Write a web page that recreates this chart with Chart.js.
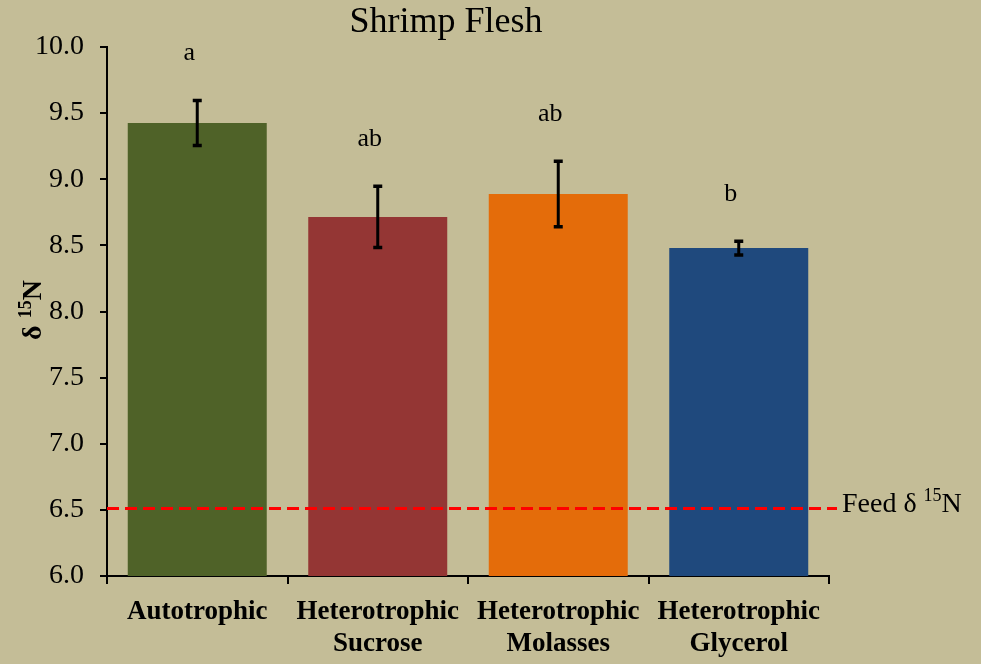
<!DOCTYPE html>
<html>
<head>
<meta charset="utf-8">
<script src="https://cdn.jsdelivr.net/npm/chart.js@4.4.1/dist/chart.umd.min.js"></script>
<style>
  html, body { margin: 0; padding: 0; background: #C4BD97; }
  canvas { display: block; }
</style>
</head>
<body>
<canvas id="grafico" width="981" height="664"></canvas>
<script>
// Tratamientos, medias de δ15N y error estándar
const categorias = [["Autotrophic"], ["Heterotrophic", "Sucrose"], ["Heterotrophic", "Molasses"], ["Heterotrophic", "Glycerol"]];
const medias = [9.425, 8.715, 8.888, 8.48];
const errores = [0.17, 0.232, 0.248, 0.052];
const letras = ["a", "ab", "ab", "b"];
const colores = ["#4F6228", "#943634", "#E46C0A", "#1F497D"];
const feedN = 6.51;
const ticksY = [6.0, 6.5, 7.0, 7.5, 8.0, 8.5, 9.0, 9.5, 10.0];

const serif = "'Liberation Serif', 'Times New Roman', serif";

// Barras de error, letras de significancia, línea del alimento y títulos
const extras = {
  id: "extras",
  afterDatasetsDraw(chart) {
    const ctx = chart.ctx;
    const y = chart.scales.y;
    const area = chart.chartArea;
    const meta = chart.getDatasetMeta(0);

    ctx.save();
    // línea del alimento
    const yf = y.getPixelForValue(feedN);
    ctx.strokeStyle = "#FF0000";
    ctx.lineWidth = 3;
    ctx.setLineDash([12, 6]);
    ctx.beginPath();
    ctx.moveTo(area.left, yf);
    ctx.lineTo(area.right + 8, yf);
    ctx.stroke();
    ctx.setLineDash([]);

    ctx.fillStyle = "#000";
    ctx.textBaseline = "alphabetic";
    ctx.textAlign = "left";
    let x = area.right + 13;
    ctx.font = "28px " + serif;
    ctx.fillText("Feed δ ", x, yf + 3);
    x += ctx.measureText("Feed δ ").width;
    ctx.font = "18px " + serif;
    ctx.fillText("15", x, yf - 8);
    x += ctx.measureText("15").width;
    ctx.font = "28px " + serif;
    ctx.fillText("N", x, yf + 3);

    // barras de error
    ctx.strokeStyle = "#000";
    meta.data.forEach((bar, i) => {
      const top = y.getPixelForValue(medias[i] + errores[i]);
      const bot = y.getPixelForValue(medias[i] - errores[i]);
      ctx.lineWidth = 3;
      ctx.beginPath();
      ctx.moveTo(bar.x, top);
      ctx.lineTo(bar.x, bot);
      ctx.stroke();
      ctx.lineWidth = 3.5;
      ctx.beginPath();
      ctx.moveTo(bar.x - 4.5, top);
      ctx.lineTo(bar.x + 4.5, top);
      ctx.moveTo(bar.x - 4.5, bot);
      ctx.lineTo(bar.x + 4.5, bot);
      ctx.stroke();

      // letra sobre la barra de error
      ctx.font = "26px " + serif;
      ctx.textAlign = "center";
      ctx.textBaseline = "middle";
      ctx.fillText(letras[i], bar.x - 8, top - 47);
    });

    // título
    ctx.font = "36px " + serif;
    ctx.textAlign = "center";
    ctx.textBaseline = "alphabetic";
    ctx.fillText("Shrimp Flesh", 446, 32);

    // título del eje Y
    ctx.translate(41, 310);
    ctx.rotate(-Math.PI / 2);
    ctx.textAlign = "left";
    const partes = [["δ ", "bold 28px ", 0], ["15", "bold 18px ", -10], ["N", "bold 28px ", 0]];
    let total = 0;
    partes.forEach(p => { ctx.font = p[1] + serif; total += ctx.measureText(p[0]).width; });
    let px = -total / 2;
    partes.forEach(p => {
      ctx.font = p[1] + serif;
      ctx.fillText(p[0], px, p[2]);
      px += ctx.measureText(p[0]).width;
    });
    ctx.restore();
  }
};

new Chart(document.getElementById("grafico"), {
  type: "bar",
  data: {
    labels: categorias,
    datasets: [{
      data: medias,
      backgroundColor: colores,
      borderWidth: 0,
      barPercentage: 0.77,
      categoryPercentage: 1,
    }],
  },
  options: {
    responsive: false,
    devicePixelRatio: 1,
    animation: false,
    layout: { padding: { left: 0, right: 152, top: 47, bottom: 0 } },
    plugins: {
      legend: { display: false },
      tooltip: { enabled: false },
    },
    scales: {
      x: {
        offset: true,
        afterFit: s => { s.height = 88; },
        grid: { offset: true, drawOnChartArea: false, tickLength: 8, color: "#000", lineWidth: 2 },
        border: { color: "#000", width: 2 },
        ticks: { color: "#000", padding: 12, font: { family: serif, size: 27, weight: "bold", lineHeight: 1.18 } },
      },
      y: {
        min: 6,
        max: 10,
        afterFit: s => { s.width = 107; },
        afterBuildTicks: s => { s.ticks = ticksY.map(v => ({ value: v })); },
        grid: { drawOnChartArea: false, tickLength: 7, color: "#000", lineWidth: 2 },
        border: { color: "#000", width: 2 },
        ticks: { color: "#000", padding: 16, font: { family: serif, size: 28 }, callback: v => v.toFixed(1) },
      },
    },
  },
  plugins: [extras],
});
</script>
</body>
</html>
